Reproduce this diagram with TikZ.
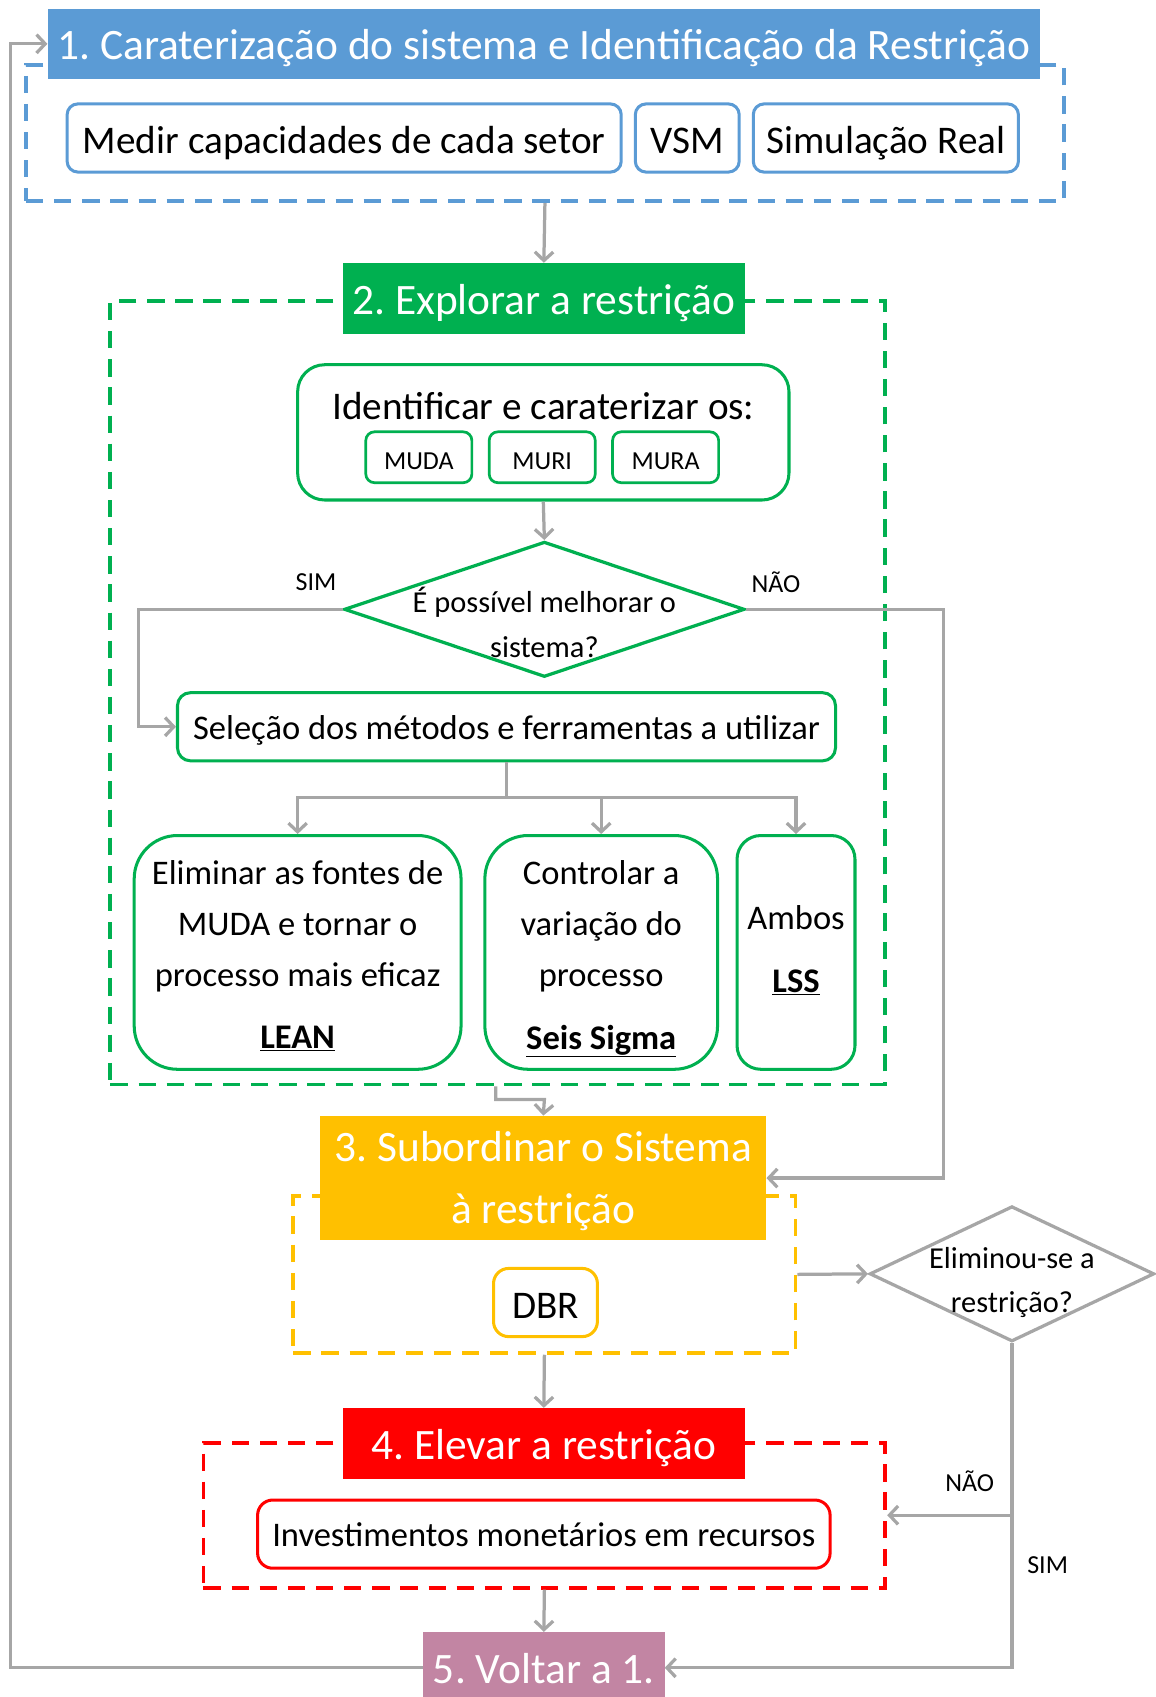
\documentclass[tikz,border=0pt]{standalone}
\usepackage{fontspec}
\setmainfont{Carlito}
\usetikzlibrary{arrows.meta,shapes.geometric}

\definecolor{stepblue}{HTML}{5B9BD5}
\definecolor{stepgreen}{HTML}{00B050}
\definecolor{stepyellow}{HTML}{FFC000}
\definecolor{stepred}{HTML}{FF0000}
\definecolor{stepmauve}{HTML}{C285A3}
\definecolor{linkgray}{HTML}{A6A6A6}

\newcommand\fsz[2]{\fontsize{#1}{#2}\selectfont}
\newcommand\ulbold[1]{\underline{\textbf{#1}}}
\frenchspacing

\begin{document}
\begin{tikzpicture}[x=1pt,y=-1pt,
  title/.style={rectangle, inner sep=0pt, text=white, font=\fsz{40.1}{57}, align=center},
  titleline/.style={text height=29pt, text depth=0pt},
  frame/.style={rectangle, draw, line width=3.5pt, dash pattern=on 16pt off 10pt, inner sep=0pt},
  item/.style={rectangle, draw, fill=white, line width=2.8pt, inner sep=0pt, align=center},
  big/.style={font=\fsz{36.2}{44}},
  bigline/.style={text height=29.5pt, text depth=0pt},
  mid/.style={font=\fsz{31.9}{47}},
  midline/.style={text height=23pt, text depth=0pt},
  ask/.style={font=\fsz{28.1}{41}, align=center, inner sep=0pt},
  link/.style={draw=linkgray, line width=3pt, -{Straight Barb[length=8pt,width=17pt]}},
  tag/.style={inner sep=0pt, font=\fsz{24}{28}},
  tagline/.style={text height=22pt, text depth=0pt}
]
\useasboundingbox (0,0) rectangle (1068,1568);

% ---- step 1 ----
\node[frame, draw=stepblue, minimum width=959pt, minimum height=126pt] (f1) at (503.5,123) {};
\node[title, titleline, fill=stepblue, minimum width=917pt, minimum height=65pt] (t1) at (502.5,40.5)
  {1. Caraterização do sistema e Identificação da Restrição};
\node[item, big, bigline, draw=stepblue, rounded corners=10pt, minimum width=512pt, minimum height=63pt] (medir) at (318,127.5) {Medir capacidades de cada setor};
\node[item, big, bigline, draw=stepblue, rounded corners=10pt, minimum width=96pt, minimum height=63pt] (vsm) at (635,127.5) {VSM};
\node[item, big, bigline, draw=stepblue, rounded corners=10pt, minimum width=245pt, minimum height=63pt] (simr) at (818.5,127.5) {Simulação Real};

% ---- step 2 ----
\node[frame, draw=stepgreen, minimum width=716pt, minimum height=724pt] (f2) at (460,640) {};
\node[title, titleline, fill=stepgreen, minimum width=371pt, minimum height=66pt] (t2) at (502.5,276) {2. Explorar a restrição};

\node[item, draw=stepgreen, rounded corners=25pt, minimum width=454pt, minimum height=125pt] (idf) at (502,399.5) {};
\node[big, inner sep=0pt] (idftext) at (502,375) {Identificar e caraterizar os:};
\node[item, tag, tagline, draw=stepgreen, line width=2.5pt, rounded corners=8pt, minimum width=98pt, minimum height=47pt] (muda) at (387,422.5) {MUDA};
\node[item, tag, tagline, draw=stepgreen, line width=2.5pt, rounded corners=8pt, minimum width=98pt, minimum height=47pt] (muri) at (501,422.5) {MURI};
\node[item, tag, tagline, draw=stepgreen, line width=2.5pt, rounded corners=8pt, minimum width=98pt, minimum height=47pt] (mura) at (615,422.5) {MURA};

\node[diamond, draw=stepgreen, line width=3pt, fill=white, inner sep=0pt, minimum width=370pt, minimum height=125pt] (d1) at (503,563) {};
\node[ask] (d1text) at (503,575) {É possível melhorar o\\sistema?};
\node[tag] (sim1) at (292,538) {SIM};
\node[tag] (nao1) at (717,538) {NÃO};

\node[item, mid, midline, draw=stepgreen, rounded corners=12pt, minimum width=608pt, minimum height=63pt] (sel) at (468,671.5) {Seleção dos métodos e ferramentas a utilizar};

\node[item, draw=stepgreen, rounded corners=40pt, minimum width=302pt, minimum height=216pt] (lean) at (275,880) {};
\node[mid, align=center, inner sep=0pt] (leantext) at (275,883)
  {Eliminar as fontes de\\MUDA e tornar o\\processo mais eficaz\\[11pt]\ulbold{LEAN}};
\node[item, draw=stepgreen, rounded corners=40pt, minimum width=215pt, minimum height=216pt] (seis) at (555.5,880) {};
\node[mid, align=center, inner sep=0pt] (seistext) at (555.5,886)
  {Controlar a\\variação do\\processo\\[11pt]\ulbold{Seis Sigma}};
\node[item, draw=stepgreen, rounded corners=22pt, minimum width=109pt, minimum height=216pt] (ambos) at (735.5,880) {};
\node[mid, align=center, inner sep=0pt] (ambostext) at (735.5,878)
  {Ambos\\[12pt]\ulbold{LSS}};

% ---- step 3 ----
\node[frame, draw=stepyellow, minimum width=464pt, minimum height=145pt] (f3) at (503,1177.5) {};
\node[rectangle, inner sep=0pt, fill=stepyellow, minimum width=412pt, minimum height=115pt] (t3) at (502,1088.5) {};
\node[title] (t3text) at (502,1091.5) {3. Subordinar o Sistema\\à restrição};
\node[item, big, bigline, draw=stepyellow, rounded corners=14pt, minimum width=96pt, minimum height=63pt] (dbr) at (504,1203.5) {DBR};

\node[diamond, draw=linkgray, line width=3pt, fill=white, inner sep=0pt, minimum width=263pt, minimum height=125pt] (d2) at (935,1177) {};
\node[ask] (d2text) at (935,1185) {Eliminou-se a\\restrição?};
\node[tag] (nao2) at (896,1369) {NÃO};
\node[tag] (sim2) at (968,1446) {SIM};

% ---- step 4 ----
\node[frame, draw=stepred, minimum width=630pt, minimum height=134pt] (f4) at (503,1400) {};
\node[title, titleline, fill=stepred, minimum width=371pt, minimum height=66pt] (t4) at (502.5,1334) {4. Elevar a restrição};
\node[item, mid, midline, draw=stepred, rounded corners=14pt, minimum width=529pt, minimum height=63pt] (inv) at (502.5,1417.5) {Investimentos monetários em recursos};

% ---- step 5 ----
\node[title, titleline, fill=stepmauve, minimum width=223pt, minimum height=66pt] (t5) at (502.5,1541) {5. Voltar a 1.};

% ---- connectors ----
\draw[link] (f1.south) -- (t2.north);
\draw[link] (idf.south) -- (d1.north);
\draw[link] (d1.west) -- (128,563) |- (sel.west);
\draw[link] (d1.east) -- (872,563) |- (t3.east);
\draw[link] (sel.south) -- (468,737) -| (lean.north);
\draw[link] (sel.south) -- (468,737) -| (seis.north);
\draw[link] (sel.south) -- (468,737) -| (ambos.north);
\draw[link] ([xshift=-2pt]f2.south) |- (503,1016) -- (t3.north);
\draw[link] (f3.east) -- (d2.west);
\draw[link] (f3.south) -- (t4.north);
\draw[link] (d2.south) |- (t5.east);
\draw[link] (d2.south |- f4.east) -- (f4.east);
\draw[link] (f4.south) -- (t5.north);
\draw[link] (t5.west) -- (10,1541) |- (t1.west);
\end{tikzpicture}
\end{document}
